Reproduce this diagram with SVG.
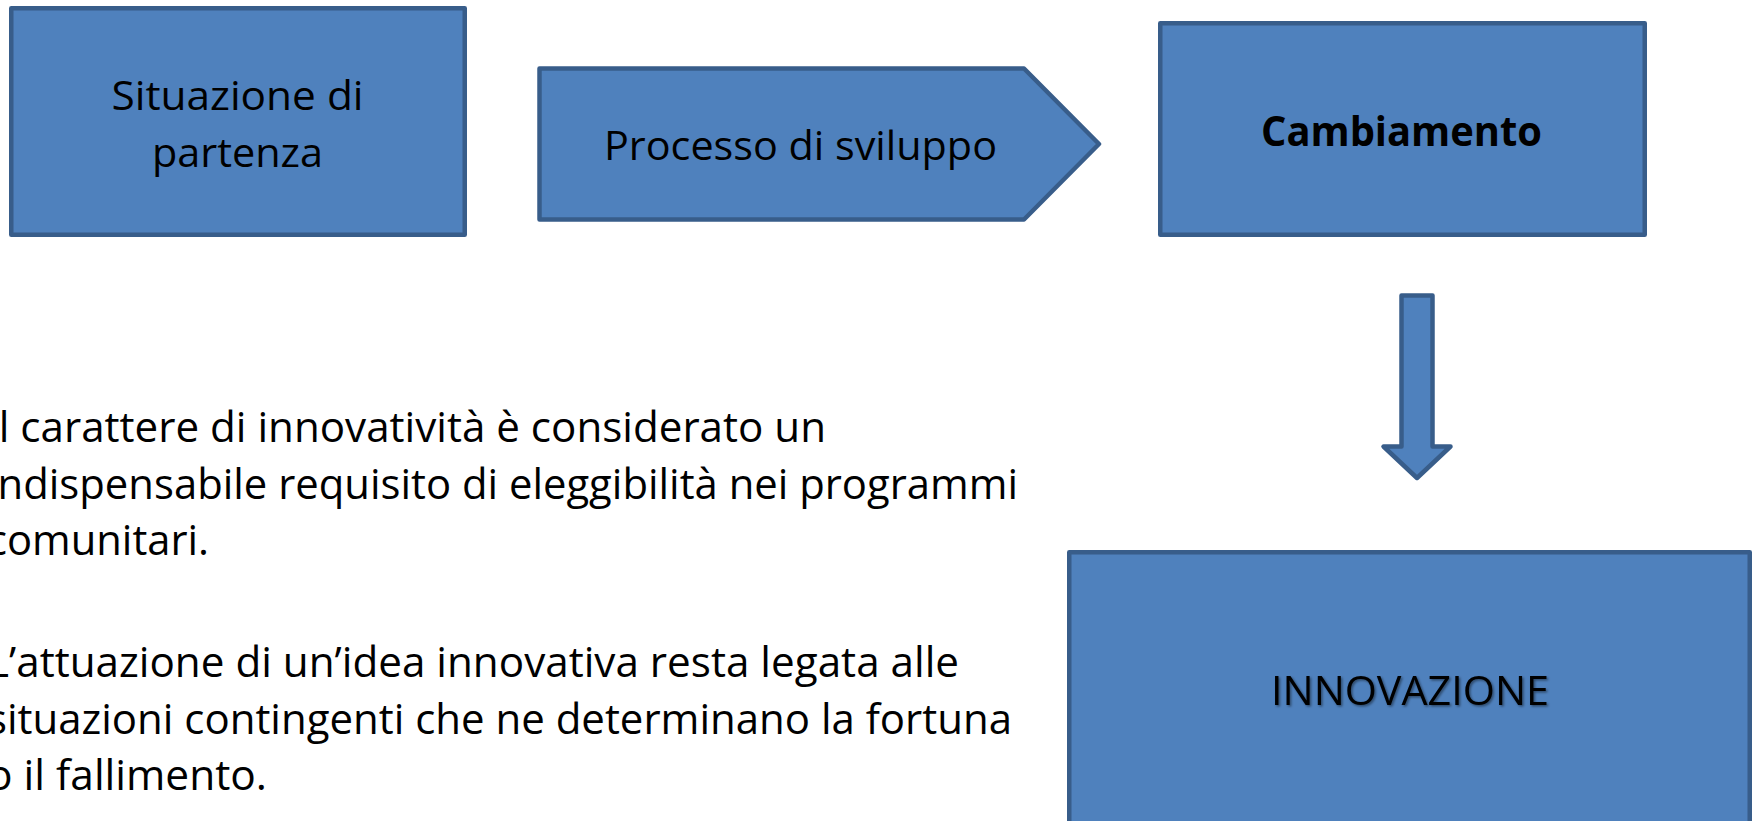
<svg xmlns="http://www.w3.org/2000/svg" width="1754" height="821" viewBox="0 0 1754 821">
<defs>
<style>
.shape{fill:#4F81BD;stroke:#385D8A;stroke-width:4.5;stroke-linejoin:round}
.lbl{font-family:"Open Sans","Liberation Sans",sans-serif;font-size:41px;fill:#000;text-anchor:middle}
.bold{font-weight:bold}
.body{font-family:"Open Sans","Liberation Sans",sans-serif;font-size:42px;fill:#000}
</style>
<filter id="shadow" x="-10%" y="-30%" width="120%" height="160%">
<feDropShadow dx="1.5" dy="1.5" stdDeviation="1" flood-color="#000" flood-opacity="0.45"/>
</filter>
</defs>
<rect width="1754" height="821" fill="#FFFFFF"/>
<g id="connectors">
<path class="shape" d="M1401.5,295.5 H1432.5 V446.5 H1450.5 L1417,478 L1383.5,446.5 H1401.5 Z"/>
</g>
<g id="node-situazione">
<rect class="shape" x="11.25" y="8.25" width="453.5" height="226.5"/>
<text class="lbl" x="237.5" y="110" textLength="252" lengthAdjust="spacingAndGlyphs">Situazione di</text>
<text class="lbl" x="237.5" y="167" textLength="171" lengthAdjust="spacingAndGlyphs">partenza</text>
</g>
<g id="node-processo">
<path class="shape" d="M539.5,68.5 H1024 L1099,144 L1024,219.5 H539.5 Z"/>
<text class="lbl" x="800.5" y="160" textLength="393" lengthAdjust="spacingAndGlyphs">Processo di sviluppo</text>
</g>
<g id="node-cambiamento">
<rect class="shape" x="1160.25" y="23.25" width="484.5" height="211.5"/>
<text class="lbl bold" x="1401.5" y="146" textLength="281" lengthAdjust="spacingAndGlyphs">Cambiamento</text>
</g>
<g id="node-innovazione">
<rect class="shape" x="1069.25" y="552.25" width="680.5" height="400"/>
<text class="lbl" x="1410" y="705" textLength="278" lengthAdjust="spacingAndGlyphs" filter="url(#shadow)">INNOVAZIONE</text>
</g>
<g id="body-text">
<text class="body" x="-13" y="442" textLength="839" lengthAdjust="spacingAndGlyphs">Il carattere di innovatività è considerato un</text>
<text class="body" x="-13" y="498.5" textLength="1031" lengthAdjust="spacingAndGlyphs">indispensabile requisito di eleggibilità nei programmi</text>
<text class="body" x="-13" y="555" textLength="222" lengthAdjust="spacingAndGlyphs">comunitari.</text>
<text class="body" x="-13" y="677" textLength="972" lengthAdjust="spacingAndGlyphs">L’attuazione di un’idea innovativa resta legata alle</text>
<text class="body" x="-13" y="734" textLength="1025" lengthAdjust="spacingAndGlyphs">situazioni contingenti che ne determinano la fortuna</text>
<text class="body" x="-13" y="790" textLength="280" lengthAdjust="spacingAndGlyphs">o il fallimento.</text>
</g>
</svg>
